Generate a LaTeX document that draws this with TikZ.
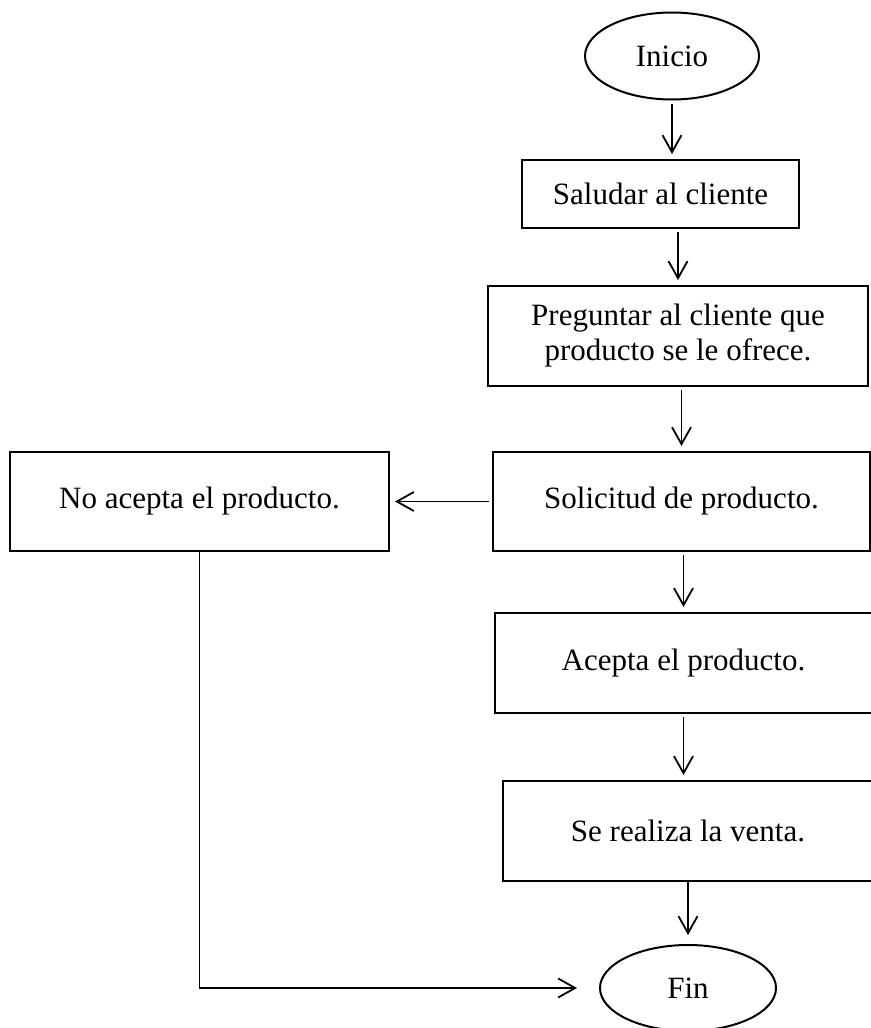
\documentclass[tikz,border=0pt]{standalone}
\usepackage{fontspec}
\setmainfont{Liberation Serif}
\usetikzlibrary{arrows.meta,shapes.geometric}
\tikzset{
  caja/.style={draw,rectangle,line width=1pt,inner sep=2pt,align=center,
    font=\fontsize{15.5}{17.5}\selectfont},
  limite/.style={draw,ellipse,line width=1pt,inner sep=0pt,
    font=\fontsize{15.5}{17.5}\selectfont},
  flecha/.style={-{Straight Barb[length=8.5pt,width=9.5pt]},line width=0.9pt,
    shorten <=1.5pt,shorten >=2.5pt}
}
\begin{document}
\begin{tikzpicture}[x=0.5pt,y=-0.5pt]
  \useasboundingbox (0,0) rectangle (871,1028);
  % inicio y fin
  \node[limite,minimum width=87pt,minimum height=43.5pt] (inicio) at (672,56) {Inicio};
  \node[limite,minimum width=88pt,minimum height=43pt] (fin) at (688,988) {Fin};
  % pasos
  \node[caja,minimum width=138.5pt,minimum height=34pt] (saludar) at (660.5,194) {Saludar al cliente};
  \node[caja,minimum width=190pt,minimum height=50pt] (preguntar) at (678,336) {Preguntar al cliente que\\producto se le ofrece.};
  \node[caja,minimum width=188.5pt,minimum height=49.5pt] (solicitud) at (681.5,501.5) {Solicitud de producto.};
  \node[caja,minimum width=189.5pt,minimum height=49.5pt] (noacepta) at (199.5,501.5) {No acepta el producto.};
  \node[caja,minimum width=188.5pt,minimum height=50pt] (acepta) at (683.5,663) {Acepta el producto.};
  \node[caja,minimum width=185pt,minimum height=50pt] (venta) at (688,831) {Se realiza la venta.};
  % flechas
  \draw[flecha] (inicio.south) -- (inicio |- saludar.north);
  \draw[flecha] (preguntar |- saludar.south) -- (preguntar.north);
  \draw[flecha] (solicitud |- preguntar.south) -- (solicitud.north);
  \draw[flecha] (solicitud.west) -- (noacepta.east);
  \draw[flecha] (acepta |- solicitud.south) -- (acepta.north);
  \draw[flecha] (acepta.south) -- (acepta |- venta.north);
  \draw[flecha,shorten <=0pt,shorten >=4.5pt] (venta.south) -- (fin.north);
  \draw[flecha,shorten <=0pt,shorten >=11pt] (noacepta.south) |- (fin.west);
\end{tikzpicture}
\end{document}
